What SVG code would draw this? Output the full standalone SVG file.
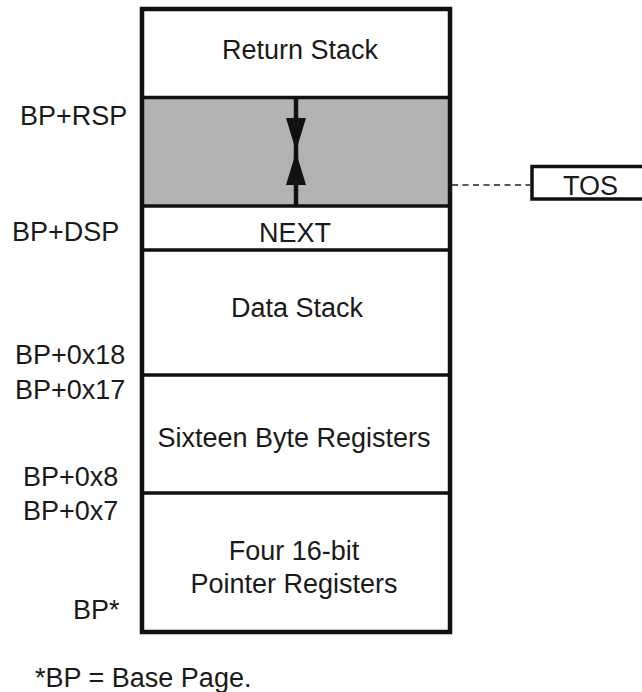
<svg xmlns="http://www.w3.org/2000/svg" width="642" height="692" viewBox="0 0 642 692">
<style>
text{font-family:"Liberation Sans",Arial,sans-serif;font-size:27px;fill:#1a1a1a}
.c{text-anchor:middle}
.div{stroke:#111;stroke-width:3.5;fill:none}
.outer{stroke:#111;stroke-width:4.5;fill:none}
</style>
<rect width="642" height="692" fill="#fff"/>
<g id="gap">
<rect x="142" y="97.5" width="308" height="108.5" fill="#b3b3b3"/>
</g>
<g id="return-stack"><text class="c" x="300" y="59">Return Stack</text></g>
<g id="next"><text class="c" x="295" y="241.5">NEXT</text></g>
<g id="data-stack"><text class="c" x="297" y="316.5">Data Stack</text></g>
<g id="byte-regs"><text class="c" x="294" y="447">Sixteen Byte Registers</text></g>
<g id="ptr-regs"><text class="c" x="294" y="560">Four 16-bit</text><text class="c" x="294" y="593">Pointer Registers</text></g>
<g id="frame">
<line class="div" x1="142" y1="97.5" x2="450" y2="97.5"/>
<line class="div" x1="142" y1="206" x2="450" y2="206"/>
<line class="div" x1="142" y1="250" x2="450" y2="250"/>
<line class="div" x1="142" y1="375" x2="450" y2="375"/>
<line class="div" x1="142" y1="493" x2="450" y2="493"/>
<rect class="outer" x="142" y="9" width="308" height="623"/>
</g>
<g id="tos">
<rect x="532" y="166.5" width="120" height="32.5" fill="#fff" stroke="#111" stroke-width="3.5"/>
<text x="563" y="195">TOS</text>
</g>
<g id="connectors">
<line x1="296" y1="97.5" x2="296" y2="206" stroke="#111" stroke-width="4.5"/>
<polygon points="286,118 306,118 296,151" fill="#111"/>
<polygon points="286,185 306,185 296,152" fill="#111"/>
<line x1="452" y1="185" x2="530" y2="185" stroke="#222" stroke-width="1.3" stroke-dasharray="6,4.5"/>
</g>
<g id="labels">
<text x="20" y="125">BP+RSP</text>
<text x="12" y="240.5">BP+DSP</text>
<text x="15" y="364">BP+0x18</text>
<text x="15" y="399">BP+0x17</text>
<text x="23" y="485.5">BP+0x8</text>
<text x="23" y="520">BP+0x7</text>
<text x="73" y="619">BP*</text>
<text x="35" y="687">*BP = Base Page.</text>
</g>
</svg>
